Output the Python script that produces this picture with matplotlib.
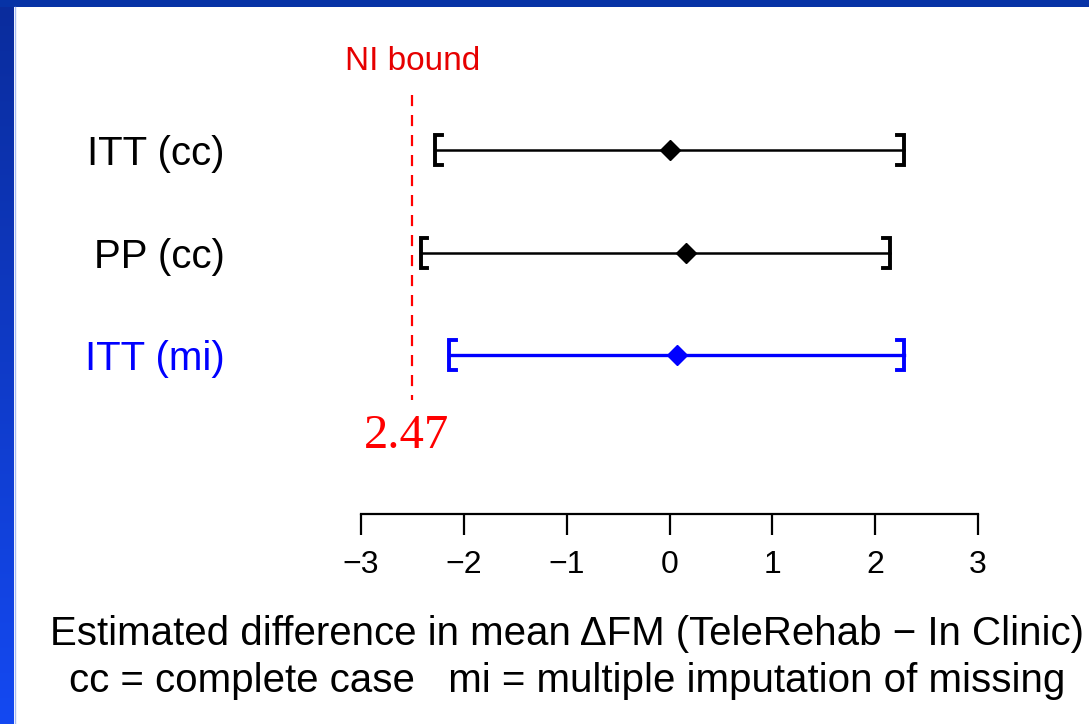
import numpy as np
import matplotlib
matplotlib.use("Agg")
import matplotlib.pyplot as plt
from matplotlib.colors import LinearSegmentedColormap

# ---- data ----
labels = ["ITT (cc)", "PP (cc)", "ITT (mi)"]
estimates = [0.0, 0.16, 0.07]
lower = [-2.28, -2.42, -2.14]
upper = [2.28, 2.14, 2.28]
colors = ["black", "black", "#0000ff"]
ni_bound = -2.5
ni_label = "2.47"
xticks = [-3, -2, -1, 0, 1, 2, 3]
xticklabels = ["\u22123", "\u22122", "\u22121", "0", "1", "2", "3"]
xlabel1 = "Estimated difference in mean \u0394FM (TeleRehab \u2212 In Clinic)"
xlabel2 = "cc = complete case   mi = multiple imputation of missing"

W, H = 1089, 724
fig = plt.figure(figsize=(W / 100, H / 100), dpi=100)
fig.patch.set_facecolor("white")

# slide frame: top band and left gradient band
bg = fig.add_axes([0, 0, 1, 1])
bg.set_xlim(0, W)
bg.set_ylim(H, 0)
bg.axis("off")
grad = np.linspace(0, 1, 256).reshape(-1, 1)
cmap = LinearSegmentedColormap.from_list("b", ["#0a2c9c", "#1449f2"])
bg.imshow(grad, cmap=cmap, extent=[0, 14, H, 0], aspect="auto", zorder=1)
bg.add_patch(plt.Rectangle((0, 0), W, 7, color="#0733a6", zorder=2, lw=0))
bg.plot([14.5, 14.5], [7, H], color="#a9bdf2", lw=1, zorder=2)

# main axes: x=-3 -> px 361, x=3 -> px 978; bottom spine at px 514
left_px, right_px, bot_px, top_px = 361, 978, 514, 40
ax = fig.add_axes([left_px / W, 1 - bot_px / H, (right_px - left_px) / W, (bot_px - top_px) / H])
ax.set_facecolor("none")
ax.set_xlim(-3, 3)
rows = np.arange(len(labels))
row_px0, row_step = 150, 102.5
ax.set_ylim((bot_px - row_px0) / row_step, (top_px - row_px0) / row_step)

for s in ["top", "right", "left"]:
    ax.spines[s].set_visible(False)
ax.spines["bottom"].set_linewidth(1.6)
ax.set_xticks(xticks)
ax.set_xticklabels(xticklabels, fontsize=23, family=["Liberation Sans", "DejaVu Sans"])
ax.tick_params(axis="x", length=15, width=1.6, pad=11)
ax.set_yticks(rows)
ax.set_yticklabels(labels, fontsize=29, family="Liberation Sans")
ax.tick_params(axis="y", length=0, pad=98)
for t, c in zip(ax.get_yticklabels(), colors):
    t.set_color(c)

stub = 6.5 / 102.8
h = 15 / row_step
lws = [1.8, 1.8, 2.4]
for i in rows:
    c = colors[i]
    ax.plot([lower[i], upper[i]], [i, i], color=c, lw=lws[i], clip_on=False, zorder=3)
    ax.plot([lower[i] + stub, lower[i], lower[i], lower[i] + stub],
            [i - h, i - h, i + h, i + h], color=c, lw=2.8, clip_on=False,
            solid_joinstyle="miter", zorder=3)
    ax.plot([upper[i] - stub, upper[i], upper[i], upper[i] - stub],
            [i - h, i - h, i + h, i + h], color=c, lw=2.8, clip_on=False,
            solid_joinstyle="miter", zorder=3)
    ax.plot([estimates[i]], [i], marker="D", ms=10, color=c, zorder=4, clip_on=False)

ax.plot([ni_bound, ni_bound], [(95 - row_px0) / row_step, (400 - row_px0) / row_step],
        color="#ff0000", lw=1.6, dashes=(5, 4), clip_on=False, zorder=2)
ax.text(ni_bound, (62 - row_px0) / row_step, "NI bound", color="#e60000",
        fontsize=24, ha="center", va="center", family="Liberation Sans")
ax.text(-2.56, (436 - row_px0) / row_step, ni_label, color="#ff0000",
        fontsize=35, ha="center", va="center", family="Liberation Serif")

fam = ["Liberation Sans", "DejaVu Sans"]
fig.text(567 / W, 1 - 634 / H, xlabel1, fontsize=29, ha="center", va="center", family=fam)
fig.text(567 / W, 1 - 681 / H, xlabel2, fontsize=29, ha="center", va="center", family=fam)

fig.savefig("out.png", dpi=100)
